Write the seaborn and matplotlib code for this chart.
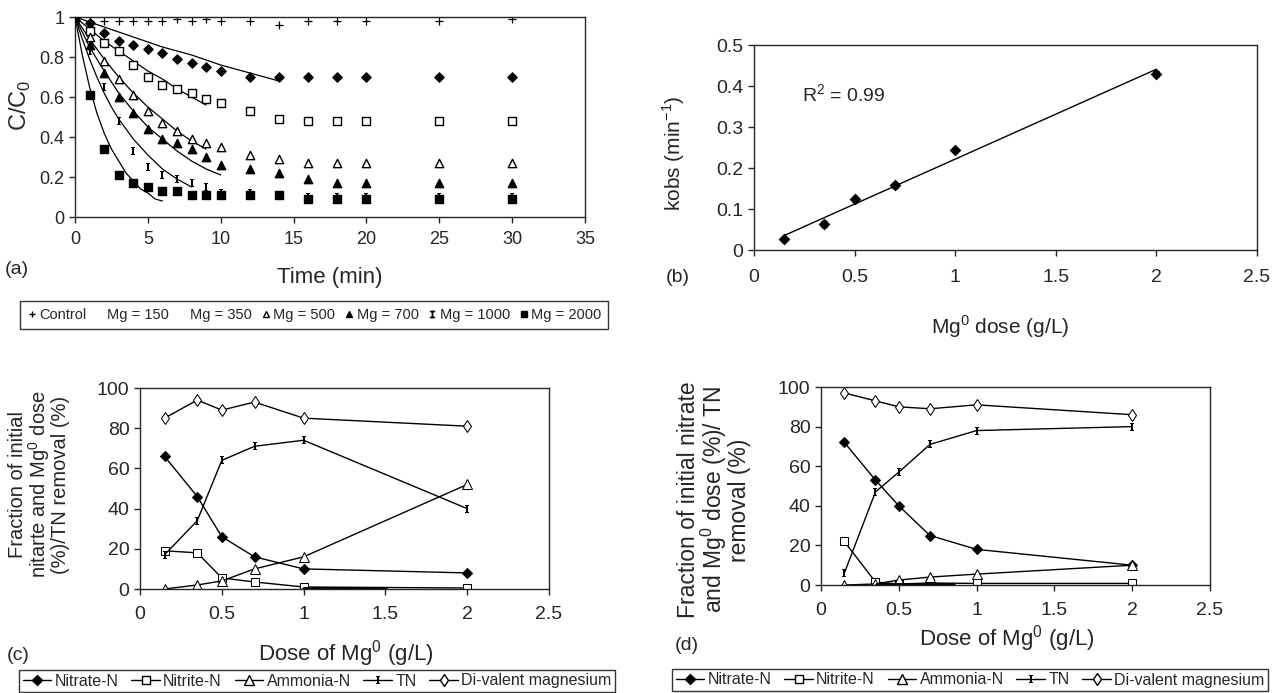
import matplotlib
matplotlib.use("Agg")
import matplotlib.pyplot as plt
from matplotlib import font_manager
from matplotlib.lines import Line2D
from matplotlib.ticker import FuncFormatter
import seaborn as sns

# (a) C/C0 against time for each Mg0 dose (mg/L)
time_min = [0, 1, 2, 3, 4, 5, 6, 7, 8, 9, 10, 12, 14, 16, 18, 20, 25, 30]
control = [1.0, 0.98, 0.98, 0.98, 0.98, 0.98, 0.98, 0.99, 0.98, 0.99, 0.98, 0.98, 0.96, 0.98, 0.98, 0.98, 0.98, 0.99]
mg150 = [1.0, 0.97, 0.92, 0.88, 0.86, 0.84, 0.82, 0.79, 0.77, 0.75, 0.73, 0.70, 0.70, 0.70, 0.70, 0.70, 0.70, 0.70]
mg350 = [1.0, 0.93, 0.87, 0.83, 0.76, 0.70, 0.66, 0.64, 0.62, 0.59, 0.57, 0.53, 0.49, 0.48, 0.48, 0.48, 0.48, 0.48]
mg500 = [1.0, 0.90, 0.78, 0.69, 0.61, 0.53, 0.47, 0.43, 0.39, 0.37, 0.35, 0.31, 0.29, 0.27, 0.27, 0.27, 0.27, 0.27]
mg700 = [1.0, 0.86, 0.72, 0.60, 0.52, 0.44, 0.39, 0.37, 0.34, 0.30, 0.26, 0.24, 0.22, 0.19, 0.17, 0.17, 0.17, 0.17]
mg1000 = [1.0, 0.83, 0.65, 0.48, 0.33, 0.25, 0.21, 0.19, 0.17, 0.15, 0.12, 0.12, 0.11, 0.10, 0.10, 0.10, 0.10, 0.10]
mg2000 = [1.0, 0.61, 0.34, 0.21, 0.17, 0.15, 0.13, 0.13, 0.11, 0.11, 0.11, 0.11, 0.11, 0.09, 0.09, 0.09, 0.09, 0.09]

# (a) fitted curves
fit_t150 = [0, 2, 4, 6, 8, 10, 12, 14]
fit150 = [1.0, 0.95, 0.90, 0.85, 0.81, 0.76, 0.72, 0.68]
fit_t350 = [0, 1, 2, 3, 4, 5, 6, 7, 8, 9]
fit350 = [1.0, 0.94, 0.88, 0.83, 0.78, 0.73, 0.69, 0.64, 0.60, 0.56]
fit_t500 = [0, 1, 2, 3, 4, 5, 6, 7, 8, 9]
fit500 = [1.0, 0.89, 0.79, 0.70, 0.62, 0.55, 0.49, 0.43, 0.38, 0.34]
fit_t700 = [0, 1, 2, 3, 4, 5, 6, 7, 8, 9, 10]
fit700 = [1.0, 0.85, 0.73, 0.62, 0.53, 0.45, 0.39, 0.33, 0.28, 0.24, 0.21]
fit_t1000 = [0, 0.5, 1, 1.5, 2, 2.5, 3, 3.5, 4, 5, 6, 7, 8]
fit1000 = [1.0, 0.89, 0.79, 0.70, 0.62, 0.55, 0.49, 0.44, 0.39, 0.31, 0.24, 0.19, 0.15]
fit_t2000 = [0, 0.5, 1, 1.5, 2, 2.5, 3, 3.5, 4, 4.5, 5, 5.5, 6]
fit2000 = [1.0, 0.81, 0.65, 0.52, 0.42, 0.34, 0.28, 0.22, 0.18, 0.14, 0.12, 0.09, 0.08]

# (b) kobs against Mg0 dose
mg_dose = [0.15, 0.35, 0.5, 0.7, 1.0, 2.0]
kobs = [0.027, 0.063, 0.124, 0.158, 0.243, 0.43]
kobs_err = [0.004, 0.008, 0.006, 0.006, 0.005, 0.006]

# (c) and (d) nitrogen species / Mg2+ against dose
dose = [0.15, 0.35, 0.5, 0.7, 1.0, 2.0]
c_nitrate = [66, 46, 26, 16, 10, 8]
c_nitrite = [19, 18, 5.5, 3.5, 1, 0.5]
c_ammonia = [0, 2, 4, 10, 16, 52]
c_tn = [17, 34, 64, 71, 74, 40]
c_mg = [85, 94, 89, 93, 85, 81]
c_smear = [1.0, 1.5]

d_nitrate = [72, 53, 40, 25, 18, 10]
d_nitrite = [22, 1.5, 0.5, 1, 0.8, 0.8]
d_ammonia = [0, 0.5, 2.5, 4, 5.5, 10]
d_tn = [6, 47, 57, 71, 78, 80]
d_mg = [97, 93, 90, 89, 91, 86]
d_smear = [0.36, 0.85]

species = ["Nitrate-N", "Nitrite-N", "Ammonia-N", "TN", "Di-valent magnesium"]

W, H = 1272, 693
IBAR = r"$\mathtt{I}$"


def fx(x):
    return x / W


def fy(y):
    return 1 - y / H


def gfmt(v, pos):
    return "{:g}".format(round(v, 3))


def boxed(leg):
    leg.get_frame().set_edgecolor("k")
    leg.get_frame().set_linewidth(1.0)


def main():
    sns.set_style("ticks")
    names = {f.name for f in font_manager.fontManager.ttflist}
    narrow = "Liberation Sans Narrow" if "Liberation Sans Narrow" in names else "Liberation Sans"
    plt.rcParams["font.family"] = [narrow, "DejaVu Sans"]
    plt.rcParams["mathtext.fontset"] = "custom"
    plt.rcParams["mathtext.rm"] = narrow
    plt.rcParams["axes.linewidth"] = 1.0
    plt.rcParams["xtick.major.width"] = 1.0
    plt.rcParams["ytick.major.width"] = 1.0
    plt.rcParams["xtick.major.size"] = 4
    plt.rcParams["ytick.major.size"] = 4

    fig = plt.figure(figsize=(12.72, 6.93), dpi=100)

    # ---------- (a) ----------
    ax = fig.add_axes([fx(75), fy(217), 510 / W, 200 / H])
    series_a = [
        (control, "+", "k", 30),
        (mg150, "D", "k", 22),
        (mg350, "s", "white", 32),
        (mg500, "^", "white", 36),
        (mg700, "^", "k", 36),
        (mg1000, IBAR, "k", 40),
        (mg2000, "s", "k", 36),
    ]
    for fit_t, fit_v in [(fit_t150, fit150), (fit_t350, fit350), (fit_t500, fit500),
                         (fit_t700, fit700), (fit_t1000, fit1000), (fit_t2000, fit2000)]:
        sns.lineplot(x=fit_t, y=fit_v, ax=ax, color="k", lw=0.9, legend=False)
    for vals, mk, fc, s in series_a:
        if mk == "+":
            sns.scatterplot(x=time_min, y=vals, ax=ax, marker=mk, s=s, color="k", linewidth=0.9, legend=False)
        elif mk == IBAR:
            sns.scatterplot(x=time_min, y=vals, ax=ax, marker=mk, s=s, color="k", linewidth=0, legend=False)
        else:
            sns.scatterplot(x=time_min, y=vals, ax=ax, marker=mk, s=s, color=fc, edgecolor="k",
                            linewidth=1.0, legend=False, zorder=3)
    ax.set_xlim(0, 35)
    ax.set_ylim(0, 1)
    ax.set_xticks(range(0, 36, 5))
    ax.set_yticks([0, 0.2, 0.4, 0.6, 0.8, 1.0])
    ax.yaxis.set_major_formatter(FuncFormatter(gfmt))
    ax.tick_params(labelsize=13)
    ax.tick_params(axis="x", pad=6)
    ax.set_xlabel("Time (min)", fontsize=16, family="Liberation Sans")
    ax.set_ylabel("C/C$_0$", fontsize=17, family="Liberation Sans")
    ax.xaxis.set_label_coords(0.5, -0.25)
    ax.yaxis.set_label_coords(-0.082, 0.56)
    fig.text(fx(17), fy(270), "(a)", fontsize=14, family="Liberation Sans", ha="center", va="center")

    handles_a = [
        Line2D([], [], ls="none", marker="+", color="k", ms=5),
        Line2D([], [], ls="none", marker="None"),
        Line2D([], [], ls="none", marker="None"),
        Line2D([], [], ls="none", marker="^", mfc="white", mec="k", ms=5),
        Line2D([], [], ls="none", marker="^", color="k", ms=5),
        Line2D([], [], ls="none", marker=IBAR, color="k", ms=5),
        Line2D([], [], ls="none", marker="s", color="k", ms=5),
    ]
    labels_a = ["Control", "Mg = 150", "Mg = 350", "Mg = 500", "Mg = 700", "Mg = 1000", "Mg = 2000"]
    leg = fig.legend(handles_a, labels_a, ncol=7, loc="center", bbox_to_anchor=(fx(314), fy(315)),
                     fontsize=10.5, handlelength=0.7, handletextpad=0.15, columnspacing=0.6,
                     frameon=True, fancybox=False, borderpad=0.45)
    boxed(leg)

    # ---------- (b) ----------
    ax = fig.add_axes([fx(754), fy(250), 503 / W, 205 / H])
    sns.regplot(x=mg_dose, y=kobs, ax=ax, ci=None, scatter=False, truncate=True,
                line_kws=dict(color="k", lw=1.0))
    ax.errorbar(mg_dose, kobs, yerr=kobs_err, fmt="none", ecolor="k", elinewidth=1, capsize=2)
    sns.scatterplot(x=mg_dose, y=kobs, ax=ax, marker="D", s=36, color="k", linewidth=0, zorder=3)
    ax.set_xlim(0, 2.5)
    ax.set_ylim(0, 0.5)
    ax.set_xticks([0, 0.5, 1, 1.5, 2, 2.5])
    ax.set_yticks([0, 0.1, 0.2, 0.3, 0.4, 0.5])
    ax.xaxis.set_major_formatter(FuncFormatter(gfmt))
    ax.yaxis.set_major_formatter(FuncFormatter(gfmt))
    ax.tick_params(labelsize=14)
    ax.tick_params(axis="x", pad=10)
    ax.text(0.24, 0.378, "R$^2$ = 0.99", fontsize=14, ha="left", va="center")
    ax.set_xlabel("Mg$^0$ dose (g/L)", fontsize=15, family="Liberation Sans")
    ax.set_ylabel("kobs (min$^{-1}$)", fontsize=15, family="Liberation Sans")
    ax.xaxis.set_label_coords(0.49, -0.31)
    ax.yaxis.set_label_coords(-0.133, 0.47)
    fig.text(fx(678), fy(277), "(b)", fontsize=14, family="Liberation Sans", ha="center", va="center")

    # ---------- (c) and (d) ----------
    styles = [
        dict(marker="D", ms=5, mfc="k", mec="k"),
        dict(marker="s", ms=6, mfc="white", mec="k"),
        dict(marker="^", ms=6.5, mfc="white", mec="k"),
        dict(marker=IBAR, ms=6, mfc="k", mec="k", mew=0),
        dict(marker="d", ms=6, mfc="white", mec="k"),
    ]
    panels = [
        ("(c)", [140, 589, 409, 201], [c_nitrate, c_nitrite, c_ammonia, c_tn, c_mg], c_smear,
         "Fraction of initial\nnitarte and Mg$^0$ dose\n(%)/TN removal (%)", 14.5,
         (0.504, -0.245), (-0.17, 0.52), (18, 655), (317, 681)),
        ("(d)", [821, 585, 389, 198], [d_nitrate, d_nitrite, d_ammonia, d_tn, d_mg], d_smear,
         "Fraction of initial nitrate\nand Mg$^0$ dose (%)/ TN\nremoval (%)", 16.5,
         (0.478, -0.19), (-0.18, 0.43), (687, 645), (970, 680)),
    ]
    for tag, box, vals, smear, ylab, ylab_fs, xl, yl, tag_xy, legc in panels:
        ax = fig.add_axes([fx(box[0]), fy(box[1]), box[2] / W, box[3] / H])
        for v, st in zip(vals, styles):
            sns.lineplot(x=dose, y=v, ax=ax, color="k", lw=1.0, legend=False, **st)
        sns.lineplot(x=smear, y=[0, 0], ax=ax, color="k", lw=3.5, legend=False)
        ax.set_xlim(0, 2.5)
        ax.set_ylim(0, 100)
        ax.set_xticks([0, 0.5, 1, 1.5, 2, 2.5])
        ax.set_yticks(range(0, 101, 20))
        ax.xaxis.set_major_formatter(FuncFormatter(gfmt))
        ax.tick_params(labelsize=14)
        ax.tick_params(axis="x", pad=8)
        ax.set_xlabel("Dose of Mg$^0$ (g/L)", fontsize=16, family="Liberation Sans")
        ax.set_ylabel(ylab, fontsize=ylab_fs, family="Liberation Sans", linespacing=0.95)
        ax.xaxis.set_label_coords(*xl)
        ax.yaxis.set_label_coords(*yl)
        fig.text(fx(tag_xy[0]), fy(tag_xy[1]), tag, fontsize=14, family="Liberation Sans",
                 ha="center", va="center")
        handles = [Line2D([], [], color="k", lw=1.0, **st) for st in styles]
        leg = fig.legend(handles, species, ncol=5, loc="center", bbox_to_anchor=(fx(legc[0]), fy(legc[1])),
                         fontsize=11.5, handlelength=1.8, handletextpad=0.2, columnspacing=0.8,
                         frameon=True, fancybox=False, borderpad=0.25)
        boxed(leg)

    fig.savefig("out.png", dpi=100)


if __name__ == "__main__":
    main()
